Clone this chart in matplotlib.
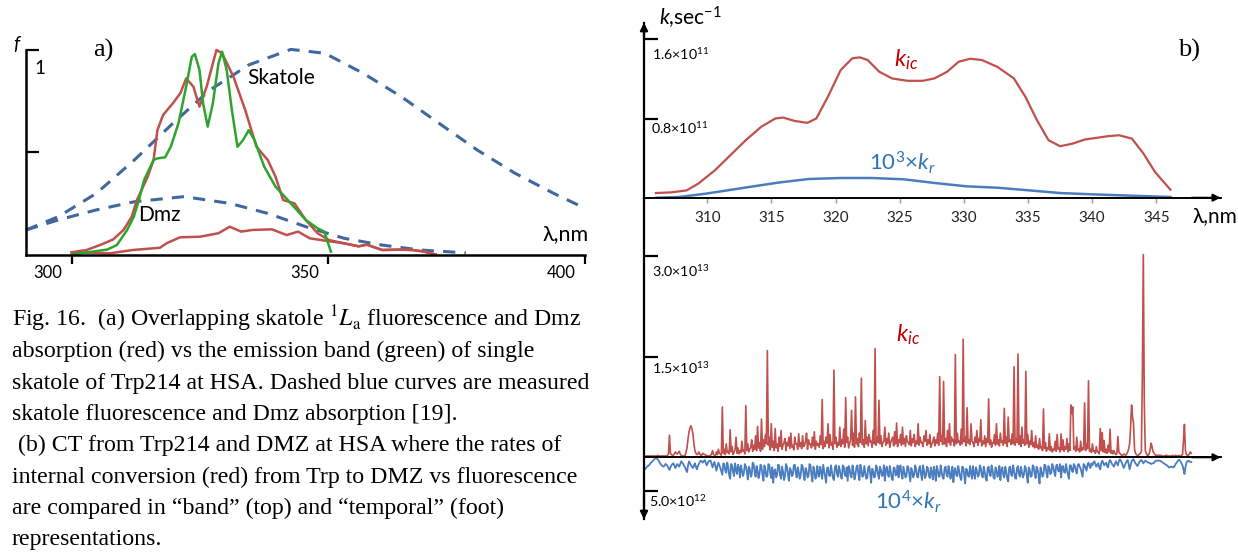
import matplotlib
matplotlib.use("Agg")
import matplotlib.pyplot as plt
from matplotlib.transforms import ScaledTranslation

# ---------------- data ----------------
# Panel a: wavelength (nm) / normalised intensity
skatole_nm = [291.1, 297.4, 304.8, 312.2, 319.7, 326.9, 334.5, 342.7, 349.3, 356.8, 364.2, 371.6, 379.0, 386.4, 393.9, 400.0]
skatole_f = [0.120, 0.185, 0.299, 0.462, 0.641, 0.804, 0.927, 1.003, 0.984, 0.886, 0.772, 0.641, 0.511, 0.397, 0.299, 0.226]

dmz_nm = [291.1, 297.4, 304.8, 312.2, 321.9, 330.8, 338.2, 345.6, 353.1, 360.5, 367.9, 376.8]
dmz_f = [0.120, 0.169, 0.218, 0.258, 0.283, 0.250, 0.201, 0.136, 0.079, 0.046, 0.022, 0.008]

red_band_nm = [300.0, 302.9, 305.5, 308.1, 310.1, 311.7, 312.7, 314.8, 315.95, 316.7, 317.8, 319.7, 321.2, 322.3,
               323.7, 324.9, 326.3, 328.2, 329.3, 331.5, 333.8, 336.0, 338.2, 339.7, 341.2, 343.4, 345.6, 347.9,
               350.1, 353.0, 355.9, 357.5, 360.5, 364.1, 366.3, 368.5, 370.9]
red_band_f = [0.011, 0.022, 0.046, 0.074, 0.120, 0.185, 0.266, 0.380, 0.462, 0.608, 0.682, 0.739, 0.790, 0.861,
              0.821, 0.723, 0.821, 1.000, 0.984, 0.870, 0.707, 0.527, 0.462, 0.381, 0.266, 0.250, 0.169, 0.104,
              0.071, 0.055, 0.040, 0.048, 0.022, 0.024, 0.022, 0.015, 0.0]

red_abs_nm = [300.0, 307.5, 311.9, 317.2, 318.5, 321.1, 325.0, 328.6, 330.8, 333.0, 335.2, 339.0, 341.9, 344.1,
              346.4, 349.3, 353.0, 355.9, 357.5, 360.5, 364.1, 366.3, 368.5, 370.9]
red_abs_f = [0.011, 0.006, 0.022, 0.033, 0.055, 0.084, 0.087, 0.104, 0.136, 0.112, 0.120, 0.123, 0.095, 0.112,
             0.079, 0.068, 0.055, 0.040, 0.048, 0.022, 0.024, 0.022, 0.015, 0.0]

green_nm = [300.0, 302.3, 306.9, 308.8, 310.8, 312.1, 313.1, 314.1, 315.95, 316.7, 318.2, 319.3, 320.8, 322.3,
            323.4, 324.0, 324.9, 325.6, 326.5, 327.5, 328.6, 329.3, 330.2, 331.2, 332.3, 333.4, 334.5, 335.6,
            337.5, 339.7, 342.7, 345.6, 347.9, 349.2, 350.5]
green_f = [0.0, 0.008, 0.024, 0.046, 0.120, 0.185, 0.266, 0.364, 0.462, 0.470, 0.475, 0.527, 0.641, 0.821,
           0.967, 0.980, 0.902, 0.739, 0.625, 0.739, 0.935, 0.992, 0.902, 0.707, 0.527, 0.560, 0.608, 0.560,
           0.430, 0.332, 0.250, 0.169, 0.128, 0.112, 0.014]

# Panel b (top): band representation, units of 1e11 s^-1
kic_nm = [306.0, 307.2, 308.4, 309.3, 310.6, 311.8, 313.0, 314.2, 315.3, 315.9, 316.8, 317.8, 318.5, 319.4,
          320.4, 321.3, 321.9, 322.5, 323.4, 324.4, 325.6, 326.8, 327.7, 328.7, 329.6, 330.5, 331.4, 332.6,
          333.9, 334.8, 335.7, 336.6, 337.5, 338.5, 339.4, 340.3, 341.2, 342.1, 343.1, 344.0, 344.9, 346.1]
kic_band = [0.047, 0.054, 0.074, 0.142, 0.277, 0.429, 0.581, 0.716, 0.800, 0.810, 0.776, 0.756, 0.800, 1.019,
            1.289, 1.408, 1.418, 1.391, 1.273, 1.205, 1.181, 1.181, 1.205, 1.273, 1.374, 1.404, 1.391, 1.323,
            1.205, 1.019, 0.783, 0.581, 0.520, 0.547, 0.587, 0.604, 0.621, 0.631, 0.597, 0.446, 0.260, 0.081]
kr_nm = [306.0, 307.8, 309.9, 312.4, 315.5, 317.9, 320.4, 322.8, 325.3, 327.7, 330.2, 332.6, 335.1, 337.5,
         340.0, 343.1, 346.1]
kr_band = [0.0, 0.007, 0.041, 0.091, 0.152, 0.189, 0.199, 0.199, 0.186, 0.149, 0.115, 0.101, 0.074, 0.047,
           0.034, 0.020, 0.007]

# Panel b (bottom): temporal representation, units of 1e12 s^-1
kic_time = [
    0.2, 0.2, 0.2, 0.2, 0.2, 0.2, 0.2, 0.2, 0.2, 0.2, 0.2, 0.2, 0.2, 0.2, 0.3, 0.2, 0.2, 0.2, 0.2, 0.2,
    0.2, 0.2, 0.2, 0.2, 0.3, 0.5, 3.3, 0.6, 0.4, 0.3, 0.3, 0.5, 0.8, 0.6, 0.5, 0.7, 0.9, 0.5, 0.3, 0.2,
    0.2, 0.2, 0.3, 0.8, 1.5, 2.8, 3.8, 4.4, 4.7, 4.2, 3.5, 2.0, 1.0, 0.6, 0.4, 0.5, 0.8, 0.5, 0.3, 0.3,
    0.6, 0.5, 0.4, 0.3, 0.3, 0.2, 0.2, 0.2, 0.3, 0.5, 1.0, 0.4, 0.3, 0.2, 0.8, 0.4, 1.2, 0.6, 0.5, 0.3,
    7.5, 0.6, 1.2, 0.4, 2.0, 0.7, 0.9, 0.5, 4.1, 0.8, 1.6, 0.4, 0.8, 1.1, 3.0, 0.6, 1.4, 0.5, 1.0, 0.7,
    2.4, 0.9, 1.1, 0.5, 7.7, 1.0, 2.0, 0.8, 1.2, 1.5, 2.6, 0.9, 1.8, 1.2, 3.2, 1.0, 4.6, 1.4, 2.2, 0.9,
    5.7, 1.2, 2.6, 1.6, 3.4, 2.0, 15.9, 1.8, 3.0, 1.1, 5.0, 1.5, 2.4, 1.0, 4.3, 1.4, 2.0, 0.9, 3.0, 1.6,
    4.0, 1.2, 1.8, 2.2, 2.8, 1.0, 2.2, 1.7, 3.0, 1.3, 3.6, 1.5, 1.8, 1.1, 3.0, 2.0, 2.0, 1.2, 3.5, 1.6,
    2.2, 1.3, 3.2, 1.6, 1.8, 2.4, 3.6, 1.2, 2.6, 1.9, 2.0, 1.4, 3.0, 1.7, 3.8, 1.2, 2.4, 1.8, 2.0, 1.5,
    3.2, 1.9, 8.6, 1.3, 2.4, 1.6, 3.0, 2.1, 5.0, 1.4, 3.4, 1.8, 2.2, 1.2, 13.0, 2.0, 3.0, 1.5, 2.2, 1.8,
    4.5, 1.6, 2.6, 2.0, 4.2, 1.5, 8.9, 2.2, 3.0, 1.4, 2.0, 2.6, 7.0, 1.8, 3.6, 1.5, 9.0, 2.0, 2.8, 1.6,
    3.6, 2.2, 11.8, 1.9, 2.6, 1.5, 5.5, 2.0, 3.0, 1.7, 3.4, 2.3, 2.4, 1.5, 4.0, 2.0, 16.2, 1.8, 3.0, 2.2,
    8.5, 2.0, 3.2, 1.6, 2.2, 2.4, 4.5, 1.8, 2.8, 2.1, 3.6, 1.5, 2.2, 2.6, 3.0, 1.7, 3.8, 2.0, 5.1, 1.6,
    2.6, 2.2, 3.4, 1.8, 4.5, 2.0, 2.8, 1.6, 3.2, 2.3, 2.2, 1.9, 4.0, 1.7, 2.8, 2.2, 3.4, 1.6, 2.4, 2.0,
    5.0, 1.8, 3.0, 2.2, 2.2, 1.6, 3.2, 2.4, 4.0, 1.8, 2.6, 2.0, 3.4, 1.5, 2.0, 2.3, 3.0, 1.7, 2.6, 2.1,
    3.6, 1.8, 12.0, 2.4, 3.2, 1.9, 11.3, 2.0, 2.8, 1.6, 4.0, 2.2, 5.0, 1.8, 3.0, 2.4, 2.6, 1.7, 15.3, 2.0,
    3.6, 2.2, 2.4, 1.8, 4.2, 2.0, 17.6, 2.3, 3.0, 1.7, 7.4, 2.1, 2.6, 1.9, 5.0, 2.4, 2.2, 1.6, 3.0, 2.2,
    4.0, 1.8, 2.8, 2.3, 5.6, 1.7, 2.4, 2.0, 3.2, 1.6, 2.8, 2.2, 8.7, 1.9, 2.6, 1.5, 2.2, 2.1, 3.4, 1.8,
    5.0, 2.0, 2.6, 1.7, 3.6, 2.2, 2.4, 1.8, 7.3, 2.1, 3.0, 1.6, 6.0, 2.3, 2.6, 1.9, 3.5, 2.0, 13.5, 1.8,
    2.8, 2.2, 15.4, 1.9, 3.2, 1.6, 4.5, 2.1, 2.6, 1.8, 12.8, 2.0, 3.4, 1.5, 2.4, 1.9, 4.0, 1.6, 2.2, 1.4,
    3.2, 1.5, 1.8, 1.2, 2.8, 1.4, 1.6, 1.0, 7.2, 1.3, 2.2, 0.9, 1.4, 1.2, 3.5, 1.0, 1.6, 0.8, 1.2, 1.1,
    2.4, 0.9, 3.4, 1.2, 1.4, 0.8, 3.5, 1.1, 2.6, 0.9, 1.6, 1.2, 2.8, 0.8, 2.0, 1.0, 7.8, 6.5, 7.5, 1.2,
    1.6, 0.9, 3.0, 1.1, 1.2, 0.8, 2.4, 1.0, 1.4, 1.2, 8.1, 1.0, 2.0, 1.3, 11.4, 0.9, 1.2, 0.7, 2.0, 0.9,
    1.0, 0.6, 1.6, 0.8, 0.8, 0.5, 4.3, 1.0, 3.7, 0.8, 2.5, 0.7, 1.2, 0.6, 1.8, 0.8, 4.2, 0.6, 1.0, 0.5,
    1.0, 0.6, 0.4, 0.5, 3.1, 0.8, 0.6, 0.4, 0.3, 0.3, 0.5, 0.4, 0.3, 0.5, 0.8, 1.2, 2.0, 4.5, 7.8, 6.0,
    5.0, 1.2, 0.6, 0.4, 0.3, 0.3, 0.5, 0.6, 0.8, 12.0, 30.2, 8.0, 1.0, 0.6, 0.3, 0.3, 0.5, 1.2, 2.1, 1.5,
    0.8, 0.6, 0.4, 0.3, 0.3, 0.3, 0.3, 0.3, 0.3, 0.2, 0.2, 0.2, 0.2, 0.3, 0.3, 0.2, 0.2, 0.2, 0.2, 0.2,
    0.3, 0.2, 0.2, 0.3, 0.2, 0.2, 0.3, 0.2, 0.2, 0.3, 0.4, 2.5, 4.9, 1.0, 0.4, 0.3, 0.3, 0.5, 0.8, 0.6,
]
kr_time = [
    1.9, 1.8, 1.6, 1.4, 1.3, 1.2, 1.0, 0.8, 0.7, 0.5, 0.4, 0.2, 0.1, 0.2, 0.3, 0.5, 0.8, 1.0, 1.2, 1.3,
    1.4, 1.2, 1.0, 1.1, 1.3, 1.6, 1.9, 1.5, 1.2, 1.0, 0.9, 1.2, 1.6, 1.3, 1.0, 1.2, 1.4, 1.0, 0.6, 0.8,
    1.0, 1.3, 1.5, 1.9, 2.2, 1.2, 0.6, 0.9, 1.2, 1.4, 1.6, 1.2, 0.9, 1.4, 1.8, 1.3, 1.0, 0.7, 0.5, 0.6,
    0.8, 0.6, 0.4, 0.8, 1.2, 0.9, 0.6, 0.5, 0.5, 1.0, 1.5, 1.0, 0.7, 1.4, 2.0, 1.3, 0.8, 1.2, 1.6, 2.1,
    2.6, 0.9, 1.0, 2.0, 2.3, 0.8, 1.4, 2.7, 3.2, 1.0, 1.2, 2.2, 2.8, 0.9, 1.8, 2.5, 1.1, 1.6, 3.0, 1.2,
    1.9, 2.8, 2.4, 1.0, 1.3, 2.1, 3.3, 1.4, 1.7, 2.9, 2.6, 0.8, 1.0, 2.2, 2.9, 1.3, 2.0, 3.1, 2.5, 1.1,
    1.4, 2.6, 3.5, 1.2, 1.9, 2.9, 2.8, 1.0, 1.2, 2.4, 3.1, 1.5, 3.8, 2.0, 1.8, 3.0, 2.6, 1.1, 1.2, 2.7,
    3.2, 1.4, 2.1, 3.4, 2.8, 1.0, 1.4, 2.6, 3.5, 1.6, 1.9, 2.8, 2.6, 1.2, 1.1, 2.3, 3.0, 1.5, 2.1, 3.2,
    2.7, 1.1, 1.3, 2.5, 3.4, 1.6, 2.0, 3.0, 2.8, 1.0, 1.2, 2.6, 3.6, 1.4, 1.8, 3.2, 3.0, 1.3, 2.4, 2.9,
    1.4, 2.2, 3.2, 1.1, 2.0, 3.0, 3.8, 1.6, 1.5, 2.7, 2.8, 1.2, 2.2, 3.1, 3.4, 1.5, 1.2, 2.4, 2.9, 1.3,
    1.9, 2.9, 3.2, 1.2, 1.4, 2.6, 2.8, 1.5, 3.5, 1.3, 1.7, 2.8, 3.0, 1.2, 2.1, 3.3, 2.6, 1.4, 1.2, 2.5,
    3.4, 1.1, 1.8, 2.9, 2.7, 1.3, 2.2, 3.2, 3.1, 1.5, 1.3, 2.4, 3.8, 1.7, 2.0, 3.0, 2.9, 1.2, 1.5, 2.6,
    3.2, 1.4, 1.9, 2.8, 2.6, 1.2, 3.5, 1.8, 1.4, 2.6, 2.9, 1.3, 2.1, 3.1, 3.4, 1.5, 1.6, 2.7, 2.5, 1.2,
    3.0, 1.7, 1.2, 2.5, 3.2, 1.4, 2.2, 3.0, 2.8, 1.3, 1.5, 2.6, 3.6, 1.6, 2.1, 3.0, 2.6, 1.2, 1.8, 2.9,
    3.0, 1.6, 1.3, 2.6, 3.4, 1.2, 2.0, 3.1, 2.7, 1.4, 1.6, 2.8, 3.1, 1.5, 2.3, 3.3, 1.4, 2.2, 3.5, 1.3,
    1.9, 2.9, 2.8, 1.2, 2.2, 3.0, 3.2, 1.6, 1.4, 2.5, 2.9, 1.3, 2.0, 3.2, 2.6, 1.4, 3.7, 2.0, 1.6, 2.7,
    2.8, 1.3, 2.1, 3.0, 3.4, 1.4, 1.5, 2.6, 3.9, 1.7, 1.9, 2.8, 2.9, 1.3, 2.3, 3.2, 1.3, 2.4, 3.2, 1.5,
    2.0, 2.9, 2.7, 1.2, 1.6, 2.7, 3.0, 1.4, 2.2, 3.1, 3.5, 1.6, 1.4, 2.5, 2.8, 1.2, 1.9, 3.0, 3.2, 1.5,
    1.8, 2.9, 2.6, 1.3, 3.4, 1.9, 1.5, 2.7, 3.0, 1.4, 2.1, 3.2, 3.6, 1.5, 1.4, 2.6, 2.8, 1.2, 2.0, 3.1,
    3.2, 1.6, 1.3, 2.5, 2.9, 1.4, 2.2, 3.0, 2.6, 1.3, 1.6, 2.8, 3.8, 1.5, 1.9, 2.9, 2.8, 1.2, 1.4, 2.4,
    3.1, 1.4, 1.8, 2.7, 3.9, 1.5, 2.1, 2.9, 2.6, 1.1, 1.2, 2.3, 3.0, 1.3, 1.6, 2.5, 2.3, 1.0, 1.4, 2.2,
    2.8, 1.2, 1.1, 2.0, 2.1, 1.0, 3.0, 1.4, 1.3, 2.2, 2.3, 1.0, 1.8, 2.6, 3.2, 1.2, 1.2, 2.0, 2.2, 1.0,
    1.3, 1.9, 2.4, 1.2, 1.0, 1.4, 1.7, 2.3, 2.9, 1.0, 1.2, 1.6, 2.0, 1.1, 0.8, 1.3, 1.6, 0.9, 1.2, 0.8,
    0.6, 1.0, 1.4, 1.1, 0.9, 1.5, 1.8, 0.9, 0.5, 0.8, 1.2, 1.0, 0.8, 1.3, 1.5, 0.7, 0.4, 0.7, 1.0, 1.2,
    1.4, 1.0, 0.6, 0.9, 1.2, 0.6, 0.3, 0.5, 0.8, 1.2, 1.6, 1.2, 0.9, 0.6, 0.4, 1.0, 1.8, 1.2, 0.6, 0.4,
    0.3, 0.6, 0.9, 1.1, 1.3, 1.0, 0.7, 0.5, 0.4, 0.6, 0.9, 0.7, 0.5, 0.6, 0.7, 0.8, 0.8, 0.9, 1.0, 0.9,
    0.9, 0.8, 0.6, 0.5, 0.5, 0.5, 0.5, 0.5, 0.6, 0.7, 0.8, 0.9, 1.0, 1.1, 1.2, 1.3, 1.5, 1.5, 1.4, 1.4,
    1.5, 1.5, 1.3, 1.0, 0.8, 0.6, 0.4, 0.4, 0.6, 0.9, 1.2, 1.8, 2.5, 1.5, 0.8, 0.6, 0.5, 0.6, 0.7, 0.7,
]

a_xticks = [300, 350, 400]
b_xticks = [310, 315, 320, 325, 330, 335, 340, 345]

caption = [
    r"Fig. 16.  (a) Overlapping skatole $^{1}\mathit{L}_{\mathrm{a}}$ fluorescence and Dmz",
    "absorption (red) vs the emission band (green) of single",
    "skatole of Trp214 at HSA. Dashed blue curves are measured",
    "skatole fluorescence and Dmz absorption [19].",
    " (b) CT from Trp214 and DMZ at HSA where the rates of",
    "internal conversion (red) from Trp to DMZ vs fluorescence",
    "are compared in \u201cband\u201d (top) and \u201ctemporal\u201d (foot)",
    "representations.",
]

# ---------------- styling ----------------
plt.rcParams['font.family'] = ['Lato', 'DejaVu Sans']
plt.rcParams['mathtext.fontset'] = 'custom'
plt.rcParams['mathtext.rm'] = 'Lato'
plt.rcParams['mathtext.it'] = 'Lato:italic'
plt.rcParams['mathtext.bf'] = 'Lato:bold'

RED = '#c0504d'
GREEN = '#2da42d'
DBLUE = '#41689e'
BLUE = '#4a7dc0'
LRED = '#c00000'
LBLUE = '#2e75b6'

W, H = 1238, 553
fig = plt.figure(figsize=(W / 100, H / 100), dpi=100)


def ax_px(l, t, r, b):
    return fig.add_axes([l / W, 1 - b / H, (r - l) / W, (b - t) / H])


def ftext(px, py, s, **kw):
    return fig.text(px / W, 1 - py / H, s, **kw)


def clean(ax):
    ax.patch.set_alpha(0)
    for s in ['top', 'right']:
        ax.spines[s].set_visible(False)


# ---------------- panel a ----------------
ax = ax_px(26, 50, 585, 254.5)
clean(ax)
ax.set_xlim(291.1, 400)
ax.set_ylim(0, 1)
for s in ['left', 'bottom']:
    ax.spines[s].set_linewidth(1.8)
ax.plot(skatole_nm, skatole_f, color=DBLUE, lw=2.2, ls=(0, (4, 3)), clip_on=False)
ax.plot(dmz_nm, dmz_f, color=DBLUE, lw=2.2, ls=(0, (4, 3)), clip_on=False)
ax.plot(red_abs_nm, red_abs_f, color=RED, lw=1.8, clip_on=False)
ax.plot(red_band_nm, red_band_f, color=RED, lw=1.8, clip_on=False)
ax.plot(green_nm, green_f, color=GREEN, lw=1.8, clip_on=False)
ax.set_xticks(a_xticks)
ax.set_xticklabels([str(v) for v in a_xticks])
ax.tick_params(axis='x', direction='out', length=6.5, width=1.6, labelsize=12, pad=1, colors='k')
for lab in ax.get_xticklabels():
    lab.set_transform(lab.get_transform() + ScaledTranslation(-0.24, 0, fig.dpi_scale_trans))
ax.set_yticks([0.5, 1.0])
ax.set_yticklabels([])
ax.tick_params(axis='y', direction='in', length=9.5, width=1.6)

ftext(16, 45, "f", fontsize=14, style='italic', ha='center', va='center')
ftext(39.5, 68, "1", fontsize=13.5, ha='center', va='center')
ftext(103, 50, "a)", fontsize=19, family='Liberation Serif', ha='center', va='center')
ftext(281.5, 78, "Skatole", fontsize=15, ha='center', va='center')
ftext(159, 215, "Dmz", fontsize=15, ha='center', va='center')
ftext(566, 234, "\u03bb,nm", fontsize=15.5, ha='center', va='center')

for i, line in enumerate(caption):
    t = ftext(12, 326 + 31.3 * i, line, fontsize=17.2, family='Liberation Serif', ha='left', va='baseline')
    t.set_math_fontfamily('stix')

# ---------------- panel b top ----------------
bt = ax_px(644, 22.7, 1220.7, 197.7)
clean(bt)
bt.set_xlim(305.07, 350.02)
bt.set_ylim(0, 1.768)
bt.spines['left'].set_linewidth(1.6)
bt.spines['bottom'].set_linewidth(1.4)
bt.plot(kic_nm, kic_band, color=RED, lw=1.6)
bt.plot(kr_nm, kr_band, color=BLUE, lw=1.8)
bt.set_xticks(b_xticks)
bt.set_xticklabels([str(v) for v in b_xticks])
bt.tick_params(axis='x', direction='out', length=3.5, width=1, colors='#999999', labelcolor='#222222',
               labelsize=11, pad=6)
bt.set_yticks([0.8, 1.6])
bt.set_yticklabels([])
bt.tick_params(axis='y', direction='in', length=10, width=1.6)
bt.annotate('', xy=(0, 1), xytext=(0, 0.9), xycoords='axes fraction',
            arrowprops=dict(arrowstyle='-|>', color='k', lw=1.6, mutation_scale=11, shrinkA=0, shrinkB=0))
bt.annotate('', xy=(1, 0), xytext=(0.95, 0), xycoords='axes fraction',
            arrowprops=dict(arrowstyle='-|>', color='k', lw=1.4, mutation_scale=11, shrinkA=0, shrinkB=0))

ftext(659, 18, r"$k$,sec$^{-1}$", fontsize=15, ha='left', va='center')
ftext(652, 54, r"1.6$\times$10$^{11}$", fontsize=10.2, ha='left', va='center')
ftext(651, 128, r"0.8$\times$10$^{11}$", fontsize=10.2, ha='left', va='center')
ftext(1189, 50, "b)", fontsize=19, family='Liberation Serif', ha='center', va='center')
ftext(906, 60, r"$k_{ic}$", fontsize=17, color=LRED, ha='center', va='center')
ftext(902, 163, r"10$^{3}$$\times$$k_{r}$", fontsize=16, color=LBLUE, ha='center', va='center')
ftext(1193, 216.5, "\u03bb,nm", fontsize=15, ha='left', va='center')

# ---------------- panel b bottom ----------------
bb = ax_px(644, 197.7, 1220.7, 519.3)
clean(bb)
n_ic = len(kic_time)
n_r = len(kr_time)
bb.set_xlim(0, (n_ic - 1) * (1220.7 - 644) / (1191.3 - 644))
bb.set_ylim(-9.24, 38.69)
bb.spines['left'].set_linewidth(1.6)
bb.spines['bottom'].set_position(('data', 0))
bb.spines['bottom'].set_linewidth(1.4)
bb.plot(list(range(n_ic)), kic_time, color=RED, lw=1.2)
bb.plot([i * (n_ic - 1) / (n_r - 1) for i in range(n_r)], [-v for v in kr_time], color=BLUE, lw=1.3)
bb.set_xticks([])
bb.set_yticks([-5, 15, 30])
bb.set_yticklabels([])
bb.tick_params(axis='y', direction='in', length=10, width=1.6)
bb.annotate('', xy=(0, 0), xytext=(0, 0.08), xycoords='axes fraction',
            arrowprops=dict(arrowstyle='-|>', color='k', lw=1.6, mutation_scale=11, shrinkA=0, shrinkB=0))
bb.annotate('', xy=(1, 0), xytext=(0.95, 0), xycoords=('axes fraction', 'data'),
            arrowprops=dict(arrowstyle='-|>', color='k', lw=1.4, mutation_scale=11, shrinkA=0, shrinkB=0))

ftext(681, 271.5, r"3.0$\times$10$^{13}$", fontsize=10.2, ha='center', va='center')
ftext(681, 368, r"1.5$\times$10$^{13}$", fontsize=10.2, ha='center', va='center')
ftext(678, 501.5, r"5.0$\times$10$^{12}$", fontsize=10.2, ha='center', va='center')
ftext(908, 335, r"$k_{ic}$", fontsize=17, color=LRED, ha='center', va='center')
ftext(908, 501.5, r"10$^{4}$$\times$$k_{r}$", fontsize=16, color=LBLUE, ha='center', va='center')

fig.savefig("out.png", dpi=100)
